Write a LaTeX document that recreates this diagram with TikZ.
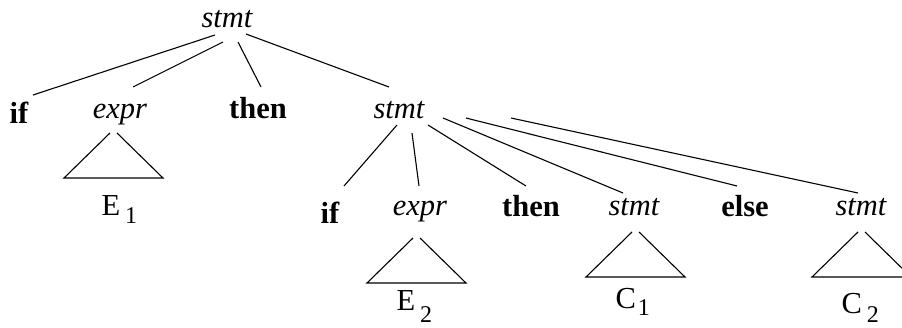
\documentclass[tikz,border=0pt]{standalone}
\usepackage{fontspec}
\setmainfont{Liberation Serif}
\newcommand{\subidx}[2]{\lower#1\hbox{\fontsize{24}{24}\selectfont #2}}

\begin{document}
\begin{tikzpicture}[
    x=1pt, y=-1pt,
    line width=1.1pt,
    every node/.style={inner sep=0pt, anchor=base, font=\fontsize{30.5}{36}\selectfont},
    nonterm/.style={font=\fontsize{30.5}{36}\selectfont\itshape},
    keyword/.style={font=\fontsize{30.5}{36}\selectfont\bfseries},
    leaf/.style={anchor=base west}
]
\useasboundingbox (0,0) rectangle (902,327);

% outer statement
\node[nonterm] (stmt_top) at (227,27) {stmt};

\node[keyword] (if_1) at (19,123) {if};
\node[nonterm] (expr_1) at (120,118) {expr};
\node[keyword] (then_1) at (258,118) {then};
\node[nonterm] (stmt_inner) at (399,118) {stmt};

% inner if-then-else
\node[keyword] (if_2) at (330,223) {if};
\node[nonterm] (expr_2) at (420,215) {expr};
\node[keyword] (then_2) at (531,216) {then};
\node[nonterm] (stmt_then) at (634,215) {stmt};
\node[keyword] (else_2) at (745,216) {else};
\node[nonterm] (stmt_else) at (861,215) {stmt};

% subtree labels
\node[leaf] (e_1) at (101,215) {E\kern5pt\subidx{8pt}{1}};
\node[leaf] (e_2) at (396,310) {E\kern5pt\subidx{12pt}{2}};
\node[leaf] (c_1) at (615,308) {C\kern2pt\subidx{7pt}{1}};
\node[leaf] (c_2) at (841,313) {C\kern5pt\subidx{9pt}{2}};

\draw ([shift={(-12,8)}]stmt_top.base) -- ([shift={(14,-28)}]if_1.base);
\draw ([shift={(-4,15)}]stmt_top.base) -- ([shift={(13,-31)}]expr_1.base);
\draw ([shift={(11,15)}]stmt_top.base) -- ([shift={(3,-31)}]then_1.base);
\draw ([shift={(19,7)}]stmt_top.base) -- ([shift={(-10,-31)}]stmt_inner.base);

\draw ([shift={(-2,7)}]stmt_inner.base) -- ([shift={(14,-37)}]if_2.base);
\draw ([shift={(13,15)}]stmt_inner.base) -- ([shift={(-1,-29)}]expr_2.base);
\draw ([shift={(29,7)}]stmt_inner.base) -- ([shift={(-5,-30)}]then_2.base);
\draw ([shift={(44,0)}]stmt_inner.base) -- ([shift={(-11,-22)}]stmt_then.base);
\draw ([shift={(67,0)}]stmt_inner.base) -- ([shift={(-8,-30)}]else_2.base);
\draw ([shift={(112,0)}]stmt_inner.base) -- ([shift={(-3,-22)}]stmt_else.base);

% open triangles
\draw ([shift={(-10,15)}]expr_1.base) -- ++(-46,45) -- ++(99,0) -- ++(-46,-45);
\draw ([shift={(-7,23)}]expr_2.base) -- ++(-46,45) -- ++(99,0) -- ++(-46,-45);
\draw ([shift={(-2,17)}]stmt_then.base) -- ++(-46,45) -- ++(99,0) -- ++(-46,-45);
\draw ([shift={(-3,17)}]stmt_else.base) -- ++(-46,45) -- ++(99,0) -- ++(-46,-45);

\end{tikzpicture}
\end{document}
